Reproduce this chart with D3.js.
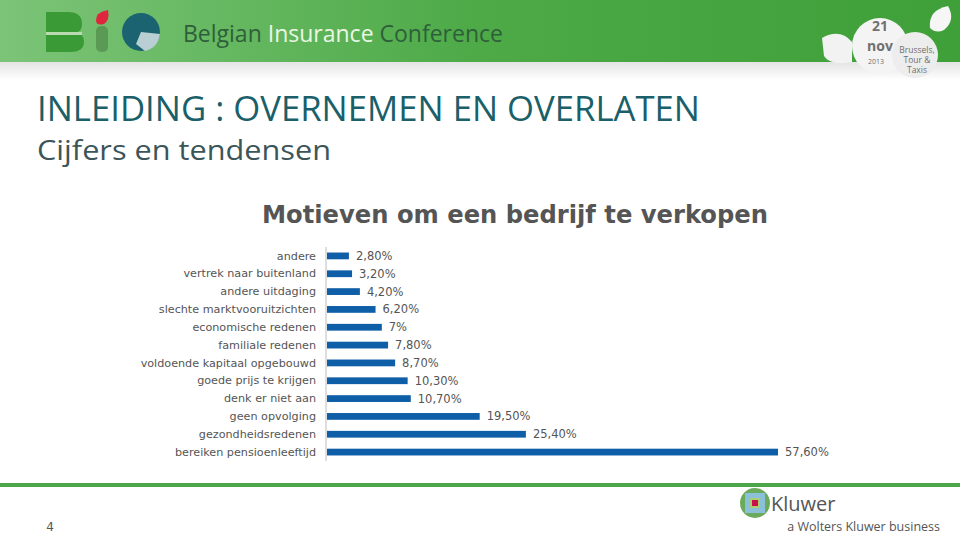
<!DOCTYPE html>
<html><head><meta charset="utf-8">
<script src="https://cdn.jsdelivr.net/npm/d3@7/dist/d3.min.js"></script>
<style>body{margin:0;background:#fff;}svg{display:block;}</style>
</head><body>
<svg id="c" width="960" height="535"></svg>
<script>
const categories = ["andere","vertrek naar buitenland","andere uitdaging","slechte marktvooruitzichten","economische redenen","familiale redenen","voldoende kapitaal opgebouwd","goede prijs te krijgen","denk er niet aan","geen opvolging","gezondheidsredenen","bereiken pensioenleeftijd"];
const values = [2.8,3.2,4.2,6.2,7.0,7.8,8.7,10.3,10.7,19.5,25.4,57.6];
const valueLabels = ["2,80%","3,20%","4,20%","6,20%","7%","7,80%","8,70%","10,30%","10,70%","19,50%","25,40%","57,60%"];

const svg = d3.select("#c");
const defs = svg.append("defs");
const g1 = defs.append("linearGradient").attr("id","band").attr("x1",0).attr("x2",1);
g1.append("stop").attr("offset","0").attr("stop-color","#7cc478");
g1.append("stop").attr("offset","0.5").attr("stop-color","#4daa47");
g1.append("stop").attr("offset","1").attr("stop-color","#3f9f38");
const g2 = defs.append("linearGradient").attr("id","shade").attr("x1",0).attr("x2",0).attr("y1",0).attr("y2",1);
g2.append("stop").attr("offset","0").attr("stop-color","#e4e4e4");
g2.append("stop").attr("offset","1").attr("stop-color","#ffffff");

// header band
svg.append("rect").attr("x",0).attr("y",62).attr("width",960).attr("height",18).attr("fill","url(#shade)");
svg.append("rect").attr("x",0).attr("y",0).attr("width",960).attr("height",62).attr("fill","url(#band)");
// BIC logo shapes
svg.append("path").attr("d","M46,12 H68 Q82,12 82,24 Q82,30 78,32 Q84,35 84,42 Q84,52 70,52 H46 Z").attr("fill","#3a9a35");
svg.append("rect").attr("x",46).attr("y",32).attr("width",36).attr("height",3).attr("fill","#b8dcb0");
svg.append("path").attr("d","M96,20 Q96,12 108,10 Q110,20 104,24 Q96,26 96,20 Z").attr("fill","#e0263c");
svg.append("rect").attr("x",96).attr("y",26).attr("width",12).attr("height",26).attr("rx",5).attr("fill","#5a9a55");
svg.append("circle").attr("cx",141).attr("cy",32).attr("r",19).attr("fill","#1b6370");
svg.append("path").attr("d","M141,32 L160,34 Q158,48 145,51 L136,44 Z").attr("fill","#b9cfd4");
const hdr = svg.append("text").attr("x",183).attr("y",42).attr("font-family","Open Sans, sans-serif").attr("font-size",23);
hdr.append("tspan").attr("fill","#2e5f3a").text("Belgian ");
hdr.append("tspan").attr("fill","#eaf6e4").text("Insurance ");
hdr.append("tspan").attr("fill","#2e5f3a").text("Conference");
// date logo
svg.append("path").attr("d","M822,38 Q840,28 852,42 L852,62 Q830,66 824,56 Z").attr("fill","#f2f2f2");
svg.append("circle").attr("cx",880).attr("cy",46).attr("r",28).attr("fill","#f4f4f4");
svg.append("circle").attr("cx",915).attr("cy",55).attr("r",23).attr("fill","#ededed");
svg.append("path").attr("d","M930,28 Q928,10 948,6 Q956,20 944,30 Q936,34 930,28 Z").attr("fill","#f6f6f6");
svg.append("text").attr("x",880).attr("y",31).attr("text-anchor","middle").attr("font-family","Open Sans, sans-serif").attr("font-weight","bold").attr("font-size",14).attr("fill","#707070").text("21");
svg.append("text").attr("x",880).attr("y",51).attr("text-anchor","middle").attr("font-family","Open Sans, sans-serif").attr("font-weight","bold").attr("font-size",14).attr("fill","#707070").text("nov");
svg.append("text").attr("x",876).attr("y",64).attr("text-anchor","middle").attr("font-family","Open Sans, sans-serif").attr("font-size",7).attr("fill","#707070").text("2013");
[["Brussels,",53],["Tour &",63],["Taxis",73]].forEach(d=>{
  svg.append("text").attr("x",917).attr("y",d[1]).attr("text-anchor","middle").attr("font-family","Open Sans, sans-serif").attr("font-size",8.5).attr("fill","#707070").text(d[0]);
});

// slide titles
svg.append("text").attr("x",37).attr("y",121).attr("font-family","Open Sans, sans-serif").attr("font-size",34).attr("fill","#1a5f69")
  .attr("textLength",663).attr("lengthAdjust","spacingAndGlyphs").text("INLEIDING : OVERNEMEN EN OVERLATEN");
svg.append("text").attr("x",37).attr("y",160).attr("font-family","Open Sans, sans-serif").attr("font-size",28).attr("fill","#3b5559")
  .attr("textLength",294).attr("lengthAdjust","spacingAndGlyphs").text("Cijfers en tendensen");

// chart title
svg.append("text").attr("x",515).attr("y",223).attr("text-anchor","middle").attr("font-family","DejaVu Sans, sans-serif").attr("font-weight","bold").attr("font-size",25).attr("fill","#555")
  .attr("textLength",506).attr("lengthAdjust","spacingAndGlyphs").text("Motieven om een bedrijf te verkopen");

// chart
const x = d3.scaleLinear().domain([0,57.6]).range([327,778]);
const y = d3.scaleBand().domain(categories).range([247,461]).paddingInner(0.62).paddingOuter(0.31);
const bars = svg.append("g");
bars.selectAll("rect").data(values).join("rect")
  .attr("x",x(0)).attr("y",(d,i)=>y(categories[i])).attr("width",d=>x(d)-x(0)).attr("height",y.bandwidth()).attr("fill","#0f5ea8");
bars.selectAll("text.v").data(values).join("text").attr("class","v")
  .attr("x",d=>x(d)+7).attr("y",(d,i)=>y(categories[i])+y.bandwidth()/2).attr("dy","0.35em")
  .attr("font-family","DejaVu Sans, sans-serif").attr("font-size",11.5).attr("fill","#555").text((d,i)=>valueLabels[i]);
const ax = svg.append("g").attr("transform","translate(326,0)").call(d3.axisLeft(y).tickSize(0).tickPadding(10));
ax.select(".domain").attr("stroke","#bdbdbd").attr("d","M0,247V461");
ax.selectAll("text").attr("font-family","DejaVu Sans, sans-serif").attr("font-size",11.2).attr("fill","#555");

// footer
svg.append("rect").attr("x",0).attr("y",483).attr("width",960).attr("height",4).attr("fill","#4ba747");
svg.append("text").attr("x",50).attr("y",531).attr("text-anchor","middle").attr("font-family","DejaVu Sans, sans-serif").attr("font-size",12).attr("fill","#555").text("4");
// kluwer logo
const kl = svg.append("g");
kl.append("circle").attr("cx",755).attr("cy",503).attr("r",15).attr("fill","#6aaa5a");
kl.append("rect").attr("x",745).attr("y",493).attr("width",20).attr("height",20).attr("fill","#8cc0d8");
kl.append("rect").attr("x",750).attr("y",498).attr("width",10).attr("height",10).attr("fill","#a8d070");
kl.append("rect").attr("x",752).attr("y",500).attr("width",6).attr("height",6).attr("fill","#c8104a");
svg.append("text").attr("x",771).attr("y",511).attr("font-family","Open Sans, sans-serif").attr("font-size",20).attr("fill","#555").text("Kluwer");
svg.append("text").attr("x",940).attr("y",531).attr("text-anchor","end").attr("font-family","Open Sans, sans-serif").attr("font-size",12.5).attr("fill","#555").text("a Wolters Kluwer business");
</script>
</body></html>
